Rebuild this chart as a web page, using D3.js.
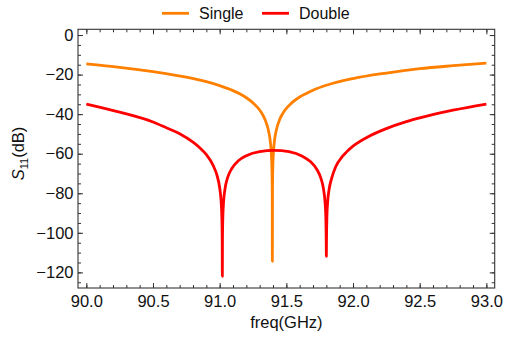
<!DOCTYPE html>
<html>
<head>
<meta charset="utf-8">
<script src="https://cdn.jsdelivr.net/npm/d3@7"></script>
<style>
  body { margin: 0; background: #fff; }
  svg { display: block; font-family: "Liberation Sans", Arial, Helvetica, sans-serif; }
</style>
</head>
<body>
<svg id="chart" width="505" height="337"></svg>
<script>
// Reflection coefficient S11 (dB) versus frequency (GHz)
const singleFreq = [90.0, 90.25, 90.5, 90.75, 90.9, 91.0, 91.1, 91.15, 91.2, 91.25, 91.3, 91.32, 91.34,
  91.365, 91.38, 91.388, 91.392, 91.394, 91.395, 91.396, 91.398, 91.402, 91.41, 91.425, 91.45,
  91.47, 91.49, 91.54, 91.6, 91.65, 91.7, 91.8, 92.0, 92.25, 92.5, 92.75, 93.0];
const singleS11 = [-14.6, -16.3, -18.5, -21.3, -23.6, -25.6, -28.1, -29.7, -31.7, -34.3, -37.9, -40.0, -42.7,
  -48.0, -54.0, -60.6, -68.0, -77.5, -114.4, -77.5, -68.0, -60.6, -54.0, -48.0, -42.7,
  -40.0, -37.9, -34.3, -31.3, -29.5, -27.9, -25.4, -22.0, -19.2, -17.0, -15.5, -14.2];

const doubleFreq = [90.0, 90.25, 90.5, 90.6, 90.7, 90.8, 90.85, 90.9, 90.95, 90.98, 91.0, 91.01, 91.016,
  91.019, 91.02, 91.021, 91.024, 91.03, 91.04, 91.06, 91.09, 91.14, 91.2, 91.3, 91.41, 91.52,
  91.62, 91.68, 91.73, 91.76, 91.78, 91.79, 91.796, 91.799, 91.8, 91.801, 91.804, 91.81, 91.82,
  91.84, 91.87, 91.92, 91.95, 92.0, 92.1, 92.25, 92.4, 92.5, 92.75, 93.0];
const doubleS11 = [-34.9, -39.0, -44.0, -46.9, -49.9, -54.2, -57.0, -60.5, -65.8, -71.0, -77.2, -83.4, -91.5,
  -103.5, -122.0, -103.6, -91.6, -83.7, -77.8, -72.0, -67.6, -63.6, -61.0, -58.9, -58.3, -59.0,
  -61.3, -64.0, -68.1, -72.6, -78.4, -84.3, -92.2, -104.1, -111.9, -104.1, -92.2, -84.2, -78.3,
  -72.4, -66.6, -61.4, -59.2, -56.2, -51.9, -47.3, -43.8, -41.9, -38.0, -34.9];

const seriesNames = ["Single", "Double"];
const seriesColors = ["#ff8000", "#ff0000"];

const xTicks = [90.0, 90.5, 91.0, 91.5, 92.0, 92.5, 93.0];
const xTickLabels = ["90.0", "90.5", "91.0", "91.5", "92.0", "92.5", "93.0"];
const xMinorTicks = d3.range(0, 31).map(i => 90 + i * 0.1);
const yTicks = [0, -20, -40, -60, -80, -100, -120];
const yTickLabels = ["0", "\u221220", "\u221240", "\u221260", "\u221280", "\u2212100", "\u2212120"];
const yMinorTicks = d3.range(0, 26).map(i => -5 * i);

const xLabel = "freq(GHz)";

const svg = d3.select("#chart");
const plotLeft = 78, plotRight = 494.7, plotTop = 29.3, plotBottom = 288;

const x = d3.scaleLinear().domain([89.9375, 93.0625]).range([plotLeft, plotRight]);
const y = d3.scaleLinear().domain([-127.9, 2.9]).range([plotBottom, plotTop]);

const frameColor = "#333";
const fontSize = 16.5;

// clip for the curves
svg.append("clipPath").attr("id", "plotClip")
  .append("rect").attr("x", plotLeft).attr("y", plotTop)
  .attr("width", plotRight - plotLeft).attr("height", plotBottom - plotTop);

const series = [
  { name: seriesNames[0], color: seriesColors[0], pts: singleFreq.map((f, i) => [f, singleS11[i]]) },
  { name: seriesNames[1], color: seriesColors[1], pts: doubleFreq.map((f, i) => [f, doubleS11[i]]) }
];

const line = d3.line().x(d => x(d[0])).y(d => y(d[1])).curve(d3.curveMonotoneX);

svg.append("g").attr("clip-path", "url(#plotClip)")
  .selectAll("path").data(series).join("path")
  .attr("d", d => line(d.pts))
  .attr("fill", "none")
  .attr("stroke", d => d.color)
  .attr("stroke-width", 2.8)
  .attr("stroke-linejoin", "round");

// axes: inward ticks on all four sides
function styleAxis(g) {
  g.select(".domain").remove();
  g.selectAll(".tick line").attr("stroke", frameColor).attr("stroke-width", 1);
  g.selectAll(".tick text").attr("fill", "#111").style("font-size", fontSize + "px")
    .style("font-family", "'Liberation Sans', Arial, sans-serif");
}

// minor ticks
svg.append("g").attr("transform", `translate(0,${plotBottom})`)
  .call(d3.axisBottom(x).tickValues(xMinorTicks).tickSizeInner(-3).tickSizeOuter(0).tickFormat(""))
  .call(styleAxis);
svg.append("g").attr("transform", `translate(0,${plotTop})`)
  .call(d3.axisTop(x).tickValues(xMinorTicks).tickSizeInner(-3).tickSizeOuter(0).tickFormat(""))
  .call(styleAxis);
svg.append("g").attr("transform", `translate(${plotLeft},0)`)
  .call(d3.axisLeft(y).tickValues(yMinorTicks).tickSizeInner(-3).tickSizeOuter(0).tickFormat(""))
  .call(styleAxis);
svg.append("g").attr("transform", `translate(${plotRight},0)`)
  .call(d3.axisRight(y).tickValues(yMinorTicks).tickSizeInner(-3).tickSizeOuter(0).tickFormat(""))
  .call(styleAxis);

// major ticks
svg.append("g").attr("transform", `translate(0,${plotBottom})`)
  .call(d3.axisBottom(x).tickValues(xTicks).tickSizeInner(-5).tickSizeOuter(0).tickPadding(6.8)
    .tickFormat((d, i) => xTickLabels[i]))
  .call(styleAxis);
svg.append("g").attr("transform", `translate(0,${plotTop})`)
  .call(d3.axisTop(x).tickValues(xTicks).tickSizeInner(-5).tickSizeOuter(0).tickFormat(""))
  .call(styleAxis);
svg.append("g").attr("transform", `translate(${plotLeft},0)`)
  .call(d3.axisLeft(y).tickValues(yTicks).tickSizeInner(-5).tickSizeOuter(0).tickPadding(4.5)
    .tickFormat((d, i) => yTickLabels[i]))
  .call(styleAxis);
svg.append("g").attr("transform", `translate(${plotRight},0)`)
  .call(d3.axisRight(y).tickValues(yTicks).tickSizeInner(-5).tickSizeOuter(0).tickFormat(""))
  .call(styleAxis);

// frame
svg.append("rect")
  .attr("x", plotLeft).attr("y", plotTop)
  .attr("width", plotRight - plotLeft).attr("height", plotBottom - plotTop)
  .attr("fill", "none").attr("stroke", frameColor).attr("stroke-width", 1.1);

// axis titles
svg.append("text")
  .attr("x", (plotLeft + plotRight) / 2).attr("y", 328)
  .attr("text-anchor", "middle").attr("fill", "#111")
  .style("font-size", fontSize + "px")
  .text(xLabel);

const yTitle = svg.append("text")
  .attr("transform", "translate(24,153.5) rotate(-90)")
  .attr("text-anchor", "middle").attr("fill", "#111")
  .style("font-size", fontSize + "px");
yTitle.append("tspan").style("font-style", "italic").text("S");
yTitle.append("tspan").attr("dy", 3.5).style("font-size", "11px").text("11");
yTitle.append("tspan").attr("dy", -3.5).text("(dB)");

// legend
const legendItems = [
  { name: seriesNames[0], color: seriesColors[0], x0: 162 },
  { name: seriesNames[1], color: seriesColors[1], x0: 262 }
];
const lg = svg.append("g").selectAll("g").data(legendItems).join("g");
lg.append("line")
  .attr("x1", d => d.x0).attr("x2", d => d.x0 + 27)
  .attr("y1", 13.3).attr("y2", 13.3)
  .attr("stroke", d => d.color).attr("stroke-width", 2.8);
lg.append("text")
  .attr("x", d => d.x0 + 37).attr("y", 18.6)
  .attr("fill", "#111")
  .style("font-size", "16px")
  .text(d => d.name);
</script>
</body>
</html>
